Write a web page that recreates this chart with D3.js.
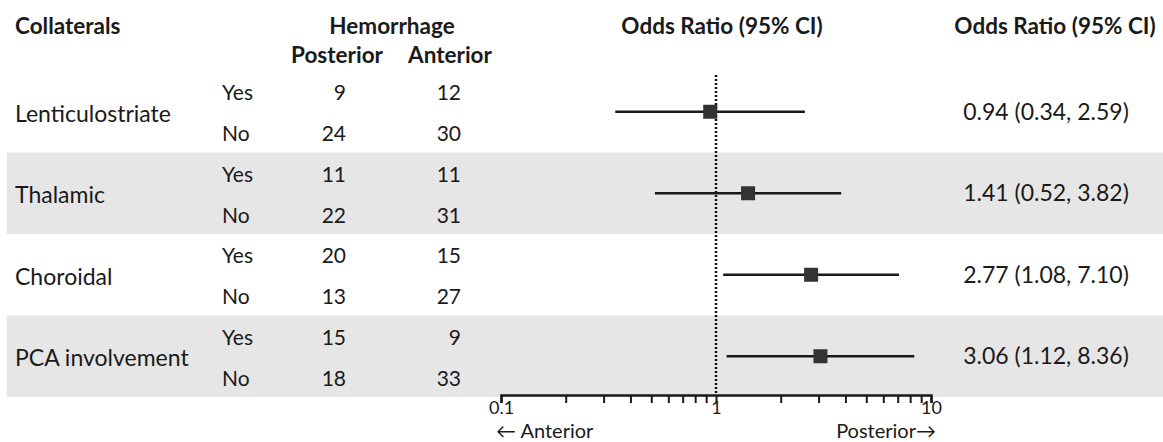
<!DOCTYPE html>
<html lang="en">
<head>
    <meta charset="UTF-8">
    <title>Collaterals forest plot</title>
    <script src="https://d3js.org/d3.v7.min.js"></script>
    <style>
        body { margin: 0; background: #fff; }
        svg text { font-family: "Lato", "Open Sans", sans-serif; fill: #1a1a1a; }
        .bold { font-weight: bold; }
    </style>
</head>
<body>
    <svg width="1163" height="442"></svg>

    <script>
// Données
const categories = ["Lenticulostriate", "Thalamic", "Choroidal", "PCA involvement"];
const levels = ["Yes", "No"];
const posterior = [[9, 24], [11, 22], [20, 13], [15, 18]];
const anterior = [[12, 30], [11, 31], [15, 27], [9, 33]];
const oddsRatio = [0.94, 1.41, 2.77, 3.06];
const ciLow = [0.34, 0.52, 1.08, 1.12];
const ciHigh = [2.59, 3.82, 7.10, 8.36];
const tickValues = [0.1, 0.2, 0.3, 0.4, 0.5, 0.6, 0.7, 0.8, 0.9, 1, 2, 3, 4, 5, 6, 7, 8, 9, 10];
const tickLabels = ["0.1", "1", "10"];

const width = 1163;
const height = 442;
const svg = d3.select("svg").attr("width", width).attr("height", height);

// échelles
const y = d3.scaleBand().domain(categories).range([71, 397]).padding(0);
const x = d3.scaleLog().domain([0.1, 10]).range([501, 931]);
const rowY = d => y(d) + y.bandwidth() / 2;

// bandes grises
svg.selectAll(".band")
    .data(categories)
    .enter().append("rect")
    .attr("x", 7)
    .attr("y", d => y(d))
    .attr("width", width - 7)
    .attr("height", y.bandwidth())
    .attr("fill", (d, i) => i % 2 ? "#e6e6e6" : "none");

// en-têtes
const head = (tx, ty, txt, anchor) => svg.append("text")
    .attr("class", "bold").attr("x", tx).attr("y", ty)
    .attr("font-size", "22.5px").attr("text-anchor", anchor).text(txt);
head(15, 34, "Collaterals", "start");
head(392, 34, "Hemorrhage", "middle");
head(337, 63, "Posterior", "middle");
head(450, 63, "Anterior", "middle");
head(722, 34, "Odds Ratio (95% CI)", "middle");
head(1055, 34, "Odds Ratio (95% CI)", "middle");

// colonnes du tableau
categories.forEach((cat, i) => {
    const cy = rowY(cat);
    svg.append("text")
        .attr("x", 15).attr("y", cy + 2).attr("dy", "0.35em")
        .attr("font-size", "23px").text(cat);

    levels.forEach((lv, j) => {
        const ly = cy + (j === 0 ? -19 : 22);
        svg.append("text").attr("x", 222).attr("y", ly).attr("dy", "0.35em")
            .attr("font-size", "21px").text(lv);
        svg.append("text").attr("x", 346).attr("y", ly).attr("dy", "0.35em")
            .attr("font-size", "21px").attr("text-anchor", "end").text(posterior[i][j]);
        svg.append("text").attr("x", 461).attr("y", ly).attr("dy", "0.35em")
            .attr("font-size", "21px").attr("text-anchor", "end").text(anterior[i][j]);
    });

    svg.append("text")
        .attr("x", 1046).attr("y", cy).attr("dy", "0.35em")
        .attr("font-size", "23px").attr("text-anchor", "middle")
        .text(`${oddsRatio[i].toFixed(2)} (${ciLow[i].toFixed(2)}, ${ciHigh[i].toFixed(2)})`);
});

// ligne de référence OR = 1
svg.append("line")
    .attr("x1", x(1)).attr("x2", x(1))
    .attr("y1", 75).attr("y2", 395)
    .attr("stroke", "#111")
    .attr("stroke-width", 2.5)
    .attr("stroke-dasharray", "2 2");

// intervalles de confiance
svg.selectAll(".ci")
    .data(categories)
    .enter().append("line")
    .attr("class", "ci")
    .attr("x1", (d, i) => x(ciLow[i]))
    .attr("x2", (d, i) => x(ciHigh[i]))
    .attr("y1", d => rowY(d))
    .attr("y2", d => rowY(d))
    .attr("stroke", "#1a1a1a")
    .attr("stroke-width", 2.5);

// estimations ponctuelles
const sq = 14;
svg.selectAll(".pt")
    .data(categories)
    .enter().append("rect")
    .attr("class", "pt")
    .attr("x", (d, i) => x(oddsRatio[i]) - sq / 2)
    .attr("y", d => rowY(d) - sq / 2)
    .attr("width", sq)
    .attr("height", sq)
    .attr("fill", "#333");

// axe logarithmique
const axis = d3.axisBottom(x)
    .tickValues(tickValues)
    .tickSize(8)
    .tickFormat(d => tickLabels.includes(String(d)) ? String(d) : "");

const gAxis = svg.append("g")
    .attr("transform", "translate(0,395)")
    .call(axis);

gAxis.select(".domain").attr("stroke", "#1a1a1a").attr("stroke-width", 2.5);
gAxis.selectAll(".tick line").attr("stroke", "#1a1a1a").attr("stroke-width", 2);
gAxis.selectAll(".tick text")
    .attr("font-size", "18px")
    .attr("font-family", "Lato, sans-serif")
    .attr("fill", "#1a1a1a")
    .attr("y", 6);

// flèches de direction
svg.append("text").attr("x", 496).attr("y", 438).attr("font-size", "20px").text("\u2190 Anterior");
svg.append("text").attr("x", 936).attr("y", 438).attr("font-size", "20px").attr("text-anchor", "end").text("Posterior\u2192");

    </script>
</body>
</html>
